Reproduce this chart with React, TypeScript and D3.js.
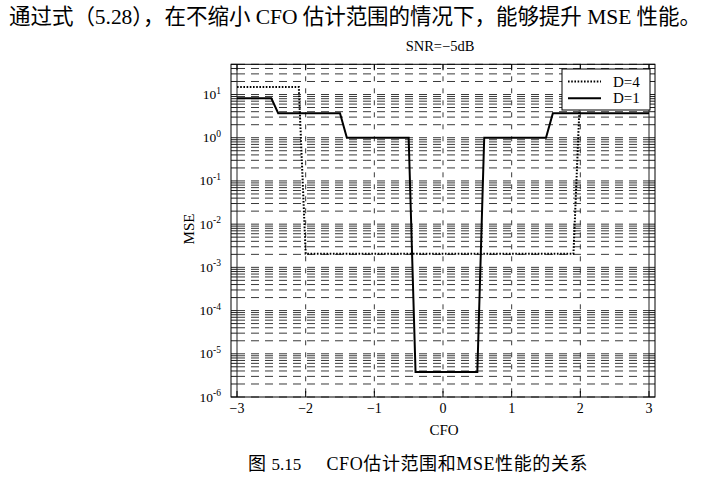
import { useRef, useEffect } from 'react';
import * as d3 from 'd3';

const xTicks = [-3, -2, -1, 0, 1, 2, 3];
const yMajor = [1e-6, 1e-5, 1e-4, 1e-3, 1e-2, 1e-1, 1e0, 1e1];
const yExp = ['-6', '-5', '-4', '-3', '-2', '-1', '0', '1'];

// D=4 (dotted)
const cfoD4 = [-3, -2.1, -2.0, 1.9, 2.0, 3];
const mseD4 = [15, 15, 2.07e-3, 2.07e-3, 15, 15];

// D=1 (solid)
const cfoD1 = [-3, -2.5, -2.4, -1.5, -1.4, -0.5, -0.4, 0.5, 0.6, 1.5, 1.6, 3];
const mseD1 = [8.2, 8.2, 3.7, 3.7, 1, 1, 3.8e-6, 3.8e-6, 1, 1, 3.7, 3.7];

const legendLabels = ['D=4', 'D=1'];

const serif = '"Liberation Serif", "Times New Roman", "Noto Sans CJK SC", serif';

export default function App() {
  const svgRef = useRef<SVGSVGElement>(null);

  useEffect(() => {
    if (!svgRef.current) return;
    const svg = d3.select(svgRef.current);
    svg.selectAll('*').remove();

    const frame = { left: 231, right: 655, top: 64.3, bottom: 397 };

    const x = d3.scaleLinear().domain([-3, 3]).range([237, 649]);
    const y = d3.scaleLog().domain([1e-6, 50]).range([frame.bottom, frame.top]);

    // top paragraph text
    svg
      .append('text')
      .attr('x', 9)
      .attr('y', 24)
      .attr('font-family', serif)
      .attr('font-size', 21.5)
      .attr('textLength', 692)
      .attr('lengthAdjust', 'spacing')
      .attr('fill', '#000')
      .text('通过式（5.28），在不缩小 CFO 估计范围的情况下，能够提升 MSE 性能。');

    const g = svg.append('g');

    g.append('rect')
      .attr('x', frame.left)
      .attr('y', frame.top)
      .attr('width', frame.right - frame.left)
      .attr('height', frame.bottom - frame.top)
      .attr('fill', '#fff');

    // horizontal grid (major + minor)
    const yGrid = y.ticks();
    g.selectAll('.hgrid')
      .data(yGrid)
      .join('line')
      .attr('x1', x(-3))
      .attr('x2', x(3))
      .attr('y1', (d) => y(d))
      .attr('y2', (d) => y(d))
      .attr('stroke', '#3a3a3a')
      .attr('stroke-width', 1)
      .attr('stroke-dasharray', '8,6');

    // vertical grid
    g.selectAll('.vgrid')
      .data(xTicks.slice(1, -1))
      .join('line')
      .attr('x1', (d) => x(d))
      .attr('x2', (d) => x(d))
      .attr('y1', frame.top)
      .attr('y2', frame.bottom)
      .attr('stroke', '#3a3a3a')
      .attr('stroke-width', 1)
      .attr('stroke-dasharray', '5,7');

    // edge lines at -3 and 3
    [-3, 3].forEach((v) => {
      g.append('line')
        .attr('x1', x(v))
        .attr('x2', x(v))
        .attr('y1', frame.top)
        .attr('y2', frame.bottom)
        .attr('stroke', '#222')
        .attr('stroke-width', 1);
    });

    // y ticks (inward, both sides)
    g.selectAll('.ytickL')
      .data(yGrid)
      .join('line')
      .attr('x1', frame.left)
      .attr('x2', x(-3))
      .attr('y1', (d) => y(d))
      .attr('y2', (d) => y(d))
      .attr('stroke', '#222');
    g.selectAll('.ytickR')
      .data(yGrid)
      .join('line')
      .attr('x1', x(3))
      .attr('x2', frame.right)
      .attr('y1', (d) => y(d))
      .attr('y2', (d) => y(d))
      .attr('stroke', '#222');

    // x ticks (inward, top and bottom)
    g.selectAll('.xtickB')
      .data(xTicks)
      .join('line')
      .attr('x1', (d) => x(d))
      .attr('x2', (d) => x(d))
      .attr('y1', frame.bottom)
      .attr('y2', frame.bottom - 6)
      .attr('stroke', '#000');
    g.selectAll('.xtickT')
      .data(xTicks)
      .join('line')
      .attr('x1', (d) => x(d))
      .attr('x2', (d) => x(d))
      .attr('y1', frame.top)
      .attr('y2', frame.top + 6)
      .attr('stroke', '#000');

    // series
    const line = d3
      .line<[number, number]>()
      .x((d) => x(d[0]))
      .y((d) => y(d[1]));

    const d4 = cfoD4.map((c, i) => [c, mseD4[i]] as [number, number]);
    const d1 = cfoD1.map((c, i) => [c, mseD1[i]] as [number, number]);

    g.append('path')
      .attr('d', line(d4))
      .attr('fill', 'none')
      .attr('stroke', '#000')
      .attr('stroke-width', 2)
      .attr('stroke-dasharray', '1.6,1.6');

    g.append('path')
      .attr('d', line(d1))
      .attr('fill', 'none')
      .attr('stroke', '#000')
      .attr('stroke-width', 2);

    // frame border
    g.append('rect')
      .attr('x', frame.left)
      .attr('y', frame.top)
      .attr('width', frame.right - frame.left)
      .attr('height', frame.bottom - frame.top)
      .attr('fill', 'none')
      .attr('stroke', '#000')
      .attr('stroke-width', 1);

    // legend
    const lg = g.append('g');
    lg.append('rect')
      .attr('x', 562)
      .attr('y', 69)
      .attr('width', 88)
      .attr('height', 41)
      .attr('fill', '#fff')
      .attr('stroke', '#000')
      .attr('stroke-width', 1);
    legendLabels.forEach((lab, i) => {
      const ly = 81.5 + i * 16.8;
      lg.append('line')
        .attr('x1', 568)
        .attr('x2', 601)
        .attr('y1', ly)
        .attr('y2', ly)
        .attr('stroke', '#000')
        .attr('stroke-width', 2)
        .attr('stroke-dasharray', i === 0 ? '1.6,1.6' : null);
      lg.append('text')
        .attr('x', 613)
        .attr('y', ly + 5)
        .attr('font-family', serif)
        .attr('font-size', 15)
        .text(lab);
    });

    // y tick labels
    yMajor.forEach((v, i) => {
      const t = g
        .append('text')
        .attr('x', 221)
        .attr('y', y(v) + 4.5)
        .attr('text-anchor', 'end')
        .attr('font-family', serif)
        .attr('font-size', 13.5);
      t.append('tspan').text('10');
      t.append('tspan')
        .attr('dy', -5.5)
        .attr('font-size', 9.5)
        .text(yExp[i]);
    });

    // x tick labels
    g.selectAll('.xlab')
      .data(xTicks)
      .join('text')
      .attr('x', (d) => x(d))
      .attr('y', 413)
      .attr('text-anchor', 'middle')
      .attr('font-family', serif)
      .attr('font-size', 14)
      .text((d) => (d < 0 ? `−${Math.abs(d)}` : `${d}`));

    // axis titles
    g.append('text')
      .attr('x', 444)
      .attr('y', 435)
      .attr('text-anchor', 'middle')
      .attr('font-family', serif)
      .attr('font-size', 15)
      .text('CFO');

    g.append('text')
      .attr('transform', 'translate(194,229) rotate(-90)')
      .attr('text-anchor', 'middle')
      .attr('font-family', serif)
      .attr('font-size', 15)
      .text('MSE');

    g.append('text')
      .attr('x', 440)
      .attr('y', 51)
      .attr('text-anchor', 'middle')
      .attr('font-family', serif)
      .attr('font-size', 14.5)
      .text('SNR=−5dB');

    // caption
    const cap = svg
      .append('text')
      .attr('y', 470)
      .attr('font-family', serif)
      .attr('font-size', 18);
    cap.append('tspan').attr('x', 248).text('图');
    cap.append('tspan').attr('x', 271.5).attr('font-size', 17).text('5.15');
    cap
      .append('tspan')
      .attr('x', 326.5)
      .attr('textLength', 261)
      .attr('lengthAdjust', 'spacing')
      .text('CFO估计范围和MSE性能的关系');
  }, []);

  return (
    <div style={{ position: 'absolute', left: 0, top: 0 }}>
      <svg ref={svgRef} width={720} height={492} style={{ display: 'block', background: '#fff' }} />
    </div>
  );
}
